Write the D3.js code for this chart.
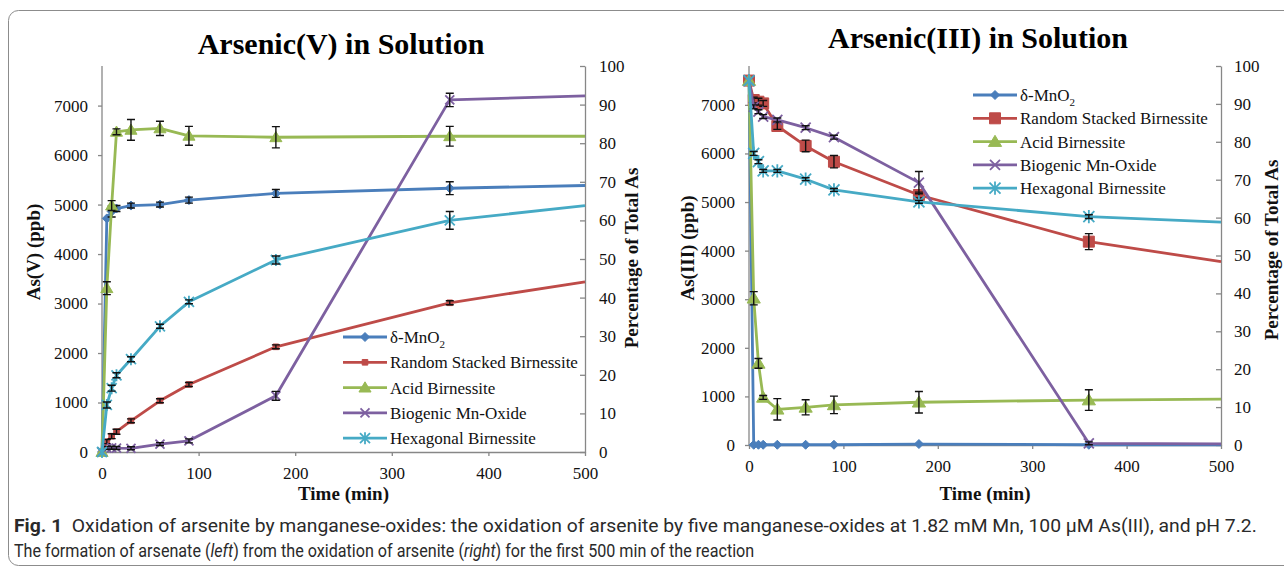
<!DOCTYPE html>
<html><head><meta charset="utf-8">
<script src="https://cdn.jsdelivr.net/npm/d3@7"></script>
<style>body{margin:0;background:#fff}svg{display:block}</style>
</head><body>
<svg id="c" width="1284" height="568"></svg>
<script>
// ---------------- DATA ----------------
const times = [0, 5, 10, 15, 30, 60, 90, 180, 360, 500];
const seriesNames = ["δ-MnO2", "Random Stacked Birnessite", "Acid Birnessite", "Biogenic Mn-Oxide", "Hexagonal Birnessite"];
const seriesColors = ["#4A7EBB", "#BE4B48", "#98B954", "#7D60A0", "#46AAC5"];
const seriesMarkers = ["diamond", "square", "triangle", "x", "asterisk"];

// As(V) in solution (ppb)
const asV_dMnO2 = [0, 4720, 4860, 4920, 4980, 5000, 5090, 5225, 5330, 5385];
const asV_rsb   = [0, 210, 320, 410, 630, 1035, 1365, 2125, 3015, 3440];
const asV_acid  = [0, 3310, 4980, 6470, 6510, 6540, 6390, 6360, 6380, 6380];
const asV_bio   = [0, 80, 85, 80, 75, 160, 225, 1135, 7115, 7195];
const asV_hex   = [0, 950, 1290, 1550, 1875, 2540, 3035, 3880, 4680, 4980];
// As(V) error (ppb)
const asV_dMnO2_err = [0, 0, 110, 60, 50, 50, 60, 80, 130, 0];
const asV_rsb_err   = [0, 40, 50, 50, 40, 40, 40, 40, 40, 0];
const asV_acid_err  = [0, 130, 100, 60, 210, 145, 190, 215, 200, 0];
const asV_bio_err   = [0, 30, 30, 30, 30, 30, 40, 90, 135, 0];
const asV_hex_err   = [0, 60, 60, 50, 50, 40, 40, 80, 180, 0];

// As(III) in solution (ppb)
const asIII_dMnO2 = [7500, 5, 5, 5, 5, 5, 5, 20, 5, 5];
const asIII_rsb   = [7500, 7100, 7065, 7030, 6565, 6155, 5830, 5145, 4185, 3775];
const asIII_acid  = [7500, 3020, 1680, 980, 735, 775, 825, 880, 925, 945];
const asIII_bio   = [7500, 6960, 6860, 6760, 6690, 6530, 6335, 5400, 35, 25];
const asIII_hex   = [7500, 6000, 5830, 5640, 5640, 5470, 5250, 5005, 4700, 4585];
// As(III) error (ppb)
const asIII_dMnO2_err = [0, 0, 0, 0, 0, 0, 0, 0, 0, 0];
const asIII_rsb_err   = [0, 60, 70, 60, 70, 120, 127, 60, 165, 0];
const asIII_acid_err  = [0, 137, 100, 40, 220, 155, 180, 220, 212, 0];
const asIII_bio_err   = [0, 40, 40, 40, 40, 40, 40, 230, 30, 0];
const asIII_hex_err   = [0, 40, 40, 30, 30, 30, 30, 30, 40, 0];

const ppbTicks = [0, 1000, 2000, 3000, 4000, 5000, 6000, 7000];
const pctTicks = [0, 10, 20, 30, 40, 50, 60, 70, 80, 90, 100];
const timeTicks = [0, 100, 200, 300, 400, 500];
const ppbMax = 7800;   // ppb equivalent of 100 % total As
const timeMax = 500;

// ---------------- DRAW ----------------
const svg = d3.select("#c");
const SERIF = "'Liberation Serif','Times New Roman',serif";
const AXC = "#878787";

// frame
svg.append("rect").attr("x", 8.5).attr("y", 10.5).attr("width", 1320).attr("height", 555)
  .attr("rx", 10).attr("fill", "none").attr("stroke", "#8c8c8c").attr("stroke-width", 1);

function markerPath(type, s) {
  switch (type) {
    case "diamond": return `M0,${-s}L${s},0L0,${s}L${-s},0Z`;
    case "square": return `M${-s},${-s}H${s}V${s}H${-s}Z`;
    case "triangle": return `M0,${-s*1.05}L${s*1.1},${s*0.8}L${-s*1.1},${s*0.8}Z`;
    case "x": return `M${-s},${-s}L${s},${s}M${-s},${s}L${s},${-s}`;
    case "asterisk": return `M${-s},${-s}L${s},${s}M${-s},${s}L${s},${-s}M0,${-s*1.2}L0,${s*1.2}`;
  }
}
const filled = t => t === "diamond" || t === "square" || t === "triangle";

function drawMarker(g, type, color, s) {
  g.append("path").attr("d", markerPath(type, s))
    .attr("fill", filled(type) ? color : "none")
    .attr("stroke", color).attr("stroke-width", filled(type) ? 1 : 1.8);
}

function legendLabel(t, name) {
  if (name === "δ-MnO2") {
    t.text("δ-MnO");
    t.append("tspan").attr("font-size", 11).attr("dy", 5).text("2");
  } else t.text(name);
}

function drawChart(cfg, values, errors) {
  const g = svg.append("g");
  const x = d3.scaleLinear().domain([0, timeMax]).range([cfg.x0, cfg.x1]);
  const y = d3.scaleLinear().domain([0, ppbMax]).range([cfg.yB, cfg.yT]);
  const p = d3.scaleLinear().domain([0, 100]).range([cfg.yB, cfg.yT]);

  g.append("text").attr("x", cfg.titleX).attr("y", cfg.titleY).attr("text-anchor", "middle")
    .attr("font-family", SERIF).attr("font-weight", "bold").attr("font-size", 30).text(cfg.title);

  const styleAxis = (a) => {
    a.selectAll("path").attr("stroke", AXC).attr("stroke-width", 1.3);
    a.selectAll("line").attr("stroke", AXC).attr("stroke-width", 1.3);
    a.selectAll("text").attr("font-family", SERIF).attr("font-size", 17).attr("fill", "#111");
  };
  const ax = g.append("g").attr("transform", `translate(0,${cfg.yB})`)
    .call(d3.axisBottom(x).tickValues(timeTicks).tickSizeInner(4).tickSizeOuter(0).tickPadding(11).tickFormat(d3.format("d")));
  styleAxis(ax);
  const ay = g.append("g").attr("transform", `translate(${cfg.x0},0)`)
    .call(d3.axisLeft(y).tickValues(ppbTicks).tickSizeInner(4).tickSizeOuter(0).tickPadding(cfg.leftPad).tickFormat(d3.format("d")));
  styleAxis(ay);
  ay.select("path.domain").attr("d", `M0,${cfg.yB}V${cfg.yT}`);
  const ap = g.append("g").attr("transform", `translate(${cfg.x1},0)`)
    .call(d3.axisRight(p).tickValues(pctTicks).tickSizeInner(-5).tickSizeOuter(0).tickPadding(cfg.rightPad).tickFormat(d3.format("d")));
  styleAxis(ap);
  ap.selectAll("text").attr("text-anchor", "start");

  const bold19 = s => s.attr("font-family", SERIF).attr("font-weight", "bold").attr("font-size", 19).attr("fill", "#111");
  g.append("text").attr("x", (cfg.x0 + cfg.x1) / 2).attr("y", cfg.xTitleY).attr("text-anchor", "middle").call(bold19).text("Time (min)");
  g.append("text").attr("transform", `translate(${cfg.yTitleX},${cfg.yTitleY}) rotate(-90)`).attr("text-anchor", "middle").call(bold19).text(cfg.yTitle);
  g.append("text").attr("transform", `translate(${cfg.pTitleX},${cfg.pTitleY}) rotate(-90)`).attr("text-anchor", "middle").call(bold19).text("Percentage of Total As");

  const line = d3.line().x(d => x(d.t)).y(d => y(d.v));
  values.forEach((vals, i) => {
    const pts = times.map((t, k) => ({ t, v: vals[k], e: errors[i][k] }));
    const sg = g.append("g");
    sg.append("path").datum(pts).attr("d", line).attr("fill", "none")
      .attr("stroke", seriesColors[i]).attr("stroke-width", 2.8).attr("stroke-linejoin", "round");
    const mk = pts.filter(d => d.t < timeMax);
    mk.forEach(d => {
      const m = sg.append("g").attr("transform", `translate(${x(d.t)},${y(d.v)})`);
      drawMarker(m, seriesMarkers[i], seriesColors[i], cfg.msize[i]);
    });
    mk.filter(d => d.e > 0).forEach(d => {
      const xx = x(d.t), ya = y(d.v - d.e), yb = y(d.v + d.e);
      sg.append("path").attr("d", `M${xx},${ya}V${yb}M${xx - 4},${ya}H${xx + 4}M${xx - 4},${yb}H${xx + 4}`)
        .attr("stroke", "#111").attr("stroke-width", 1.4).attr("fill", "none");
    });
  });

  const lg = g.append("g");
  seriesNames.forEach((n, i) => {
    const yy = cfg.legY + i * cfg.legDy;
    lg.append("line").attr("x1", cfg.legX).attr("x2", cfg.legX + 44).attr("y1", yy).attr("y2", yy)
      .attr("stroke", seriesColors[i]).attr("stroke-width", 2.8);
    const m = lg.append("g").attr("transform", `translate(${cfg.legX + 22},${yy})`);
    drawMarker(m, seriesMarkers[i], seriesColors[i], cfg.msize[i]);
    const t = lg.append("text").attr("x", cfg.legX + 47).attr("y", yy + 6)
      .attr("font-family", SERIF).attr("font-size", 17).attr("fill", "#111");
    legendLabel(t, n);
  });
}

drawChart({
  x0: 102, x1: 585, yB: 452, yT: 66, title: "Arsenic(V) in Solution", titleX: 341, titleY: 54,
  yTitle: "As(V) (ppb)", yTitleX: 40, yTitleY: 252, pTitleX: 638, pTitleY: 258, xTitleY: 500,
  leftPad: 10, rightPad: 14, legX: 343, legY: 337, legDy: 25.3, msize: [4.5, 2.8, 5.5, 4.5, 5]
}, [asV_dMnO2, asV_rsb, asV_acid, asV_bio, asV_hex],
   [asV_dMnO2_err, asV_rsb_err, asV_acid_err, asV_bio_err, asV_hex_err]);

drawChart({
  x0: 749, x1: 1221, yB: 445, yT: 66, title: "Arsenic(III) in Solution", titleX: 978, titleY: 48,
  yTitle: "As(III) (ppb)", yTitleX: 694, yTitleY: 248, pTitleX: 1278, pTitleY: 250, xTitleY: 500,
  leftPad: 10, rightPad: 13, legX: 973, legY: 95, legDy: 23.3, msize: [4.5, 5.5, 6, 5, 5.5]
}, [asIII_dMnO2, asIII_rsb, asIII_acid, asIII_bio, asIII_hex],
   [asIII_dMnO2_err, asIII_rsb_err, asIII_acid_err, asIII_bio_err, asIII_hex_err]);

// caption: each line drawn at natural width, then fitted horizontally to the reference's line width
function caption(yPos, targetW, build) {
  const g = svg.append("g");
  const t = g.append("text").attr("x", 0).attr("y", 0).attr("font-family", "Roboto, 'Open Sans', sans-serif")
    .attr("font-size", 18).attr("font-weight", 400).attr("fill", "#2a2a2a");
  build(t);
  const w = t.node().getComputedTextLength();
  g.attr("transform", `translate(14,${yPos}) scale(${targetW / w},1)`);
}
caption(532, 1244, t => {
  t.append("tspan").attr("font-weight", 700).text("Fig. 1");
  t.append("tspan").text("\u00a0 Oxidation of arsenite by manganese-oxides: the oxidation of arsenite by five manganese-oxides at 1.82 mM Mn, 100 μM As(III), and pH 7.2.");
});
caption(557, 741, t => {
  t.append("tspan").text("The formation of arsenate (");
  t.append("tspan").attr("font-style", "italic").text("left");
  t.append("tspan").text(") from the oxidation of arsenite (");
  t.append("tspan").attr("font-style", "italic").text("right");
  t.append("tspan").text(") for the first 500 min of the reaction");
});
</script>
</body></html>
